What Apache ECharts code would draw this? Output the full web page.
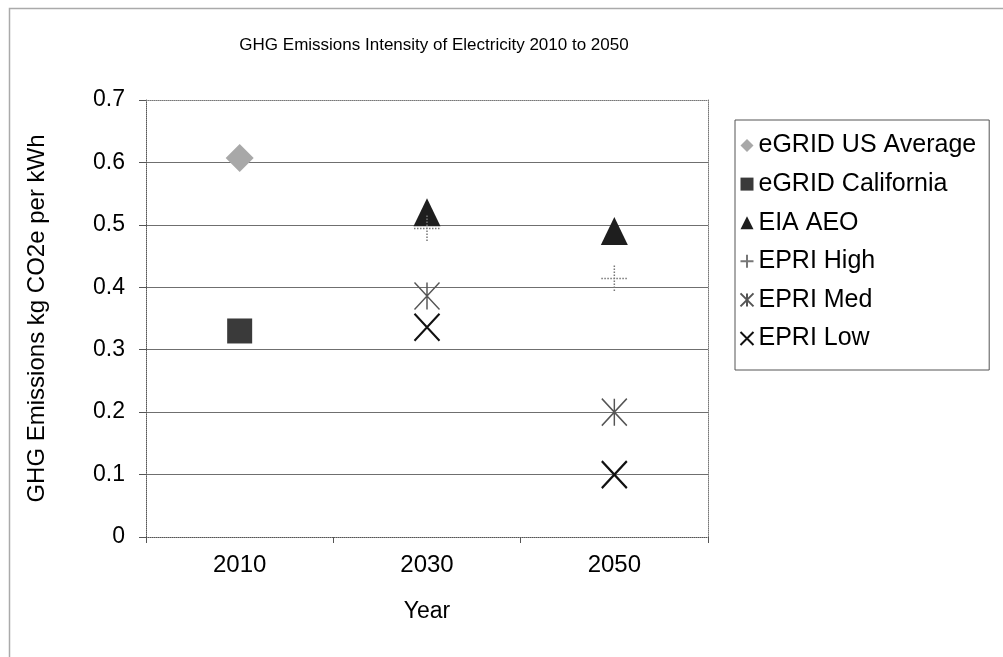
<!DOCTYPE html>
<html>
<head>
<meta charset="utf-8">
<script src="https://cdn.jsdelivr.net/npm/echarts@6/dist/echarts.min.js"></script>
<style>
html,body{margin:0;padding:0;background:#fff;}
#chart{width:1003px;height:657px;}
</style>
</head>
<body>
<div id="chart"></div>
<script>
const years = ['2010', '2030', '2050'];
const yTicks = [0, 0.1, 0.2, 0.3, 0.4, 0.5, 0.6, 0.7];
const egridUS = [0.607, '-', '-'];
const egridCA = [0.33, '-', '-'];
const eiaAeo = ['-', 0.52, 0.49];
const epriHigh = ['-', 0.494, 0.414];
const epriMed = ['-', 0.386, 0.2];
const epriLow = ['-', 0.336, 0.1];

const FONT = '"Liberation Sans", Arial, sans-serif';
const chart = echarts.init(document.getElementById('chart'), null, {renderer: 'canvas'});

const xPath = 'path://M0,0L10,10M10,0L0,10';
const medPath = 'path://M0,0L10,10M10,0L0,10M5,0L5,10';
const plusPath = 'path://M5,0L5,10M0,5L10,5';

chart.setOption({
  animation: false,
  backgroundColor: '#fff',
  textStyle: {fontFamily: FONT, color: '#000'},
  graphic: [{
    type: 'rect', left: 7, top: 6, silent: true,
    shape: {width: 1100, height: 700},
    style: {fill: 'none', stroke: '#aaa', lineWidth: 1.5}
  }],
  title: {
    text: 'GHG Emissions Intensity of Electricity 2010 to 2050',
    left: 429, top: 32, textAlign: 'center',
    textStyle: {fontFamily: FONT, fontSize: 17, fontWeight: 'normal', color: '#000'}
  },
  grid: {left: 146, top: 100, width: 562, height: 437, containLabel: false},
  legend: {
    orient: 'vertical', left: 735, top: 120,
    padding: [13, 13, 19, 3],
    itemGap: 13.6, itemWidth: 13, itemHeight: 13,
    borderColor: '#555', borderWidth: 1,
    textStyle: {fontFamily: FONT, fontSize: 25, color: '#000', lineHeight: 24, padding: [0,0,0,0]},
    data: ['eGRID US Average', 'eGRID California', 'EIA AEO', 'EPRI High', 'EPRI Med', 'EPRI Low']
  },
  xAxis: [{
    type: 'category', data: years, boundaryGap: true,
    name: 'Year', nameLocation: 'middle', nameGap: 63,
    nameTextStyle: {fontFamily: FONT, fontSize: 23, color: '#000'},
    axisLine: {onZero: false, lineStyle: {color: '#555', width: 1, type: 'dotted'}},
    axisTick: {show: true, alignWithLabel: false, length: 6, inside: false, lineStyle: {color: '#555'}},
    axisLabel: {fontFamily: FONT, fontSize: 24, color: '#000', margin: 16},
    splitLine: {show: false}
  }, {
    type: 'category', data: years, position: 'top', boundaryGap: true,
    axisLine: {show: true, onZero: false, lineStyle: {color: '#777', width: 1, type: 'dotted'}},
    axisTick: {show: false}, axisLabel: {show: false}, splitLine: {show: false}
  }],
  yAxis: [{
    type: 'value', min: 0, max: 0.7, interval: 0.1,
    name: 'GHG Emissions kg CO2e per kWh', nameLocation: 'middle', nameGap: 97,
    nameTextStyle: {fontFamily: FONT, fontSize: 24, color: '#000'},
    axisLine: {show: true, onZero: false, lineStyle: {color: '#555', width: 1, type: 'dotted'}},
    axisTick: {show: true, length: 7, inside: false, lineStyle: {color: '#555'}},
    axisLabel: {fontFamily: FONT, fontSize: 23, color: '#000', margin: 21,
      formatter: v => yTicks.includes(Math.round(v*10)/10) ? String(Math.round(v*10)/10) : ''},
    splitLine: {show: true, showMinLine: false, showMaxLine: false, lineStyle: {color: '#6f6f6f', width: 1}}
  }, {
    type: 'value', min: 0, max: 0.7, interval: 0.1, position: 'right',
    axisLine: {show: true, onZero: false, lineStyle: {color: '#777', width: 1, type: 'dotted'}},
    axisTick: {show: false}, axisLabel: {show: false}, splitLine: {show: false}
  }],
  series: [
    {name: 'eGRID US Average', type: 'scatter', data: egridUS, symbol: 'diamond', symbolSize: [28, 28],
      itemStyle: {color: '#a8a8a8', opacity: 1}},
    {name: 'eGRID California', type: 'scatter', data: egridCA, symbol: 'rect', symbolSize: [25, 25],
      itemStyle: {color: '#3a3a3a', opacity: 1}},
    {name: 'EIA AEO', type: 'scatter', data: eiaAeo, symbol: 'triangle', symbolSize: [27, 28],
      itemStyle: {color: '#1e1e1e', opacity: 1}},
    {name: 'EPRI High', type: 'scatter', data: epriHigh, symbol: plusPath, symbolSize: [26, 26],
      itemStyle: {color: 'none', borderColor: '#777', borderWidth: 1.5, borderType: 'dotted', opacity: 1}},
    {name: 'EPRI Med', type: 'scatter', data: epriMed, symbol: medPath, symbolSize: [25, 27],
      itemStyle: {color: 'none', borderColor: '#555', borderWidth: 1.5, opacity: 1}},
    {name: 'EPRI Low', type: 'scatter', data: epriLow, symbol: xPath, symbolSize: [25, 27],
      itemStyle: {color: 'none', borderColor: '#111', borderWidth: 2.2, opacity: 1}}
  ]
});
</script>
</body>
</html>
